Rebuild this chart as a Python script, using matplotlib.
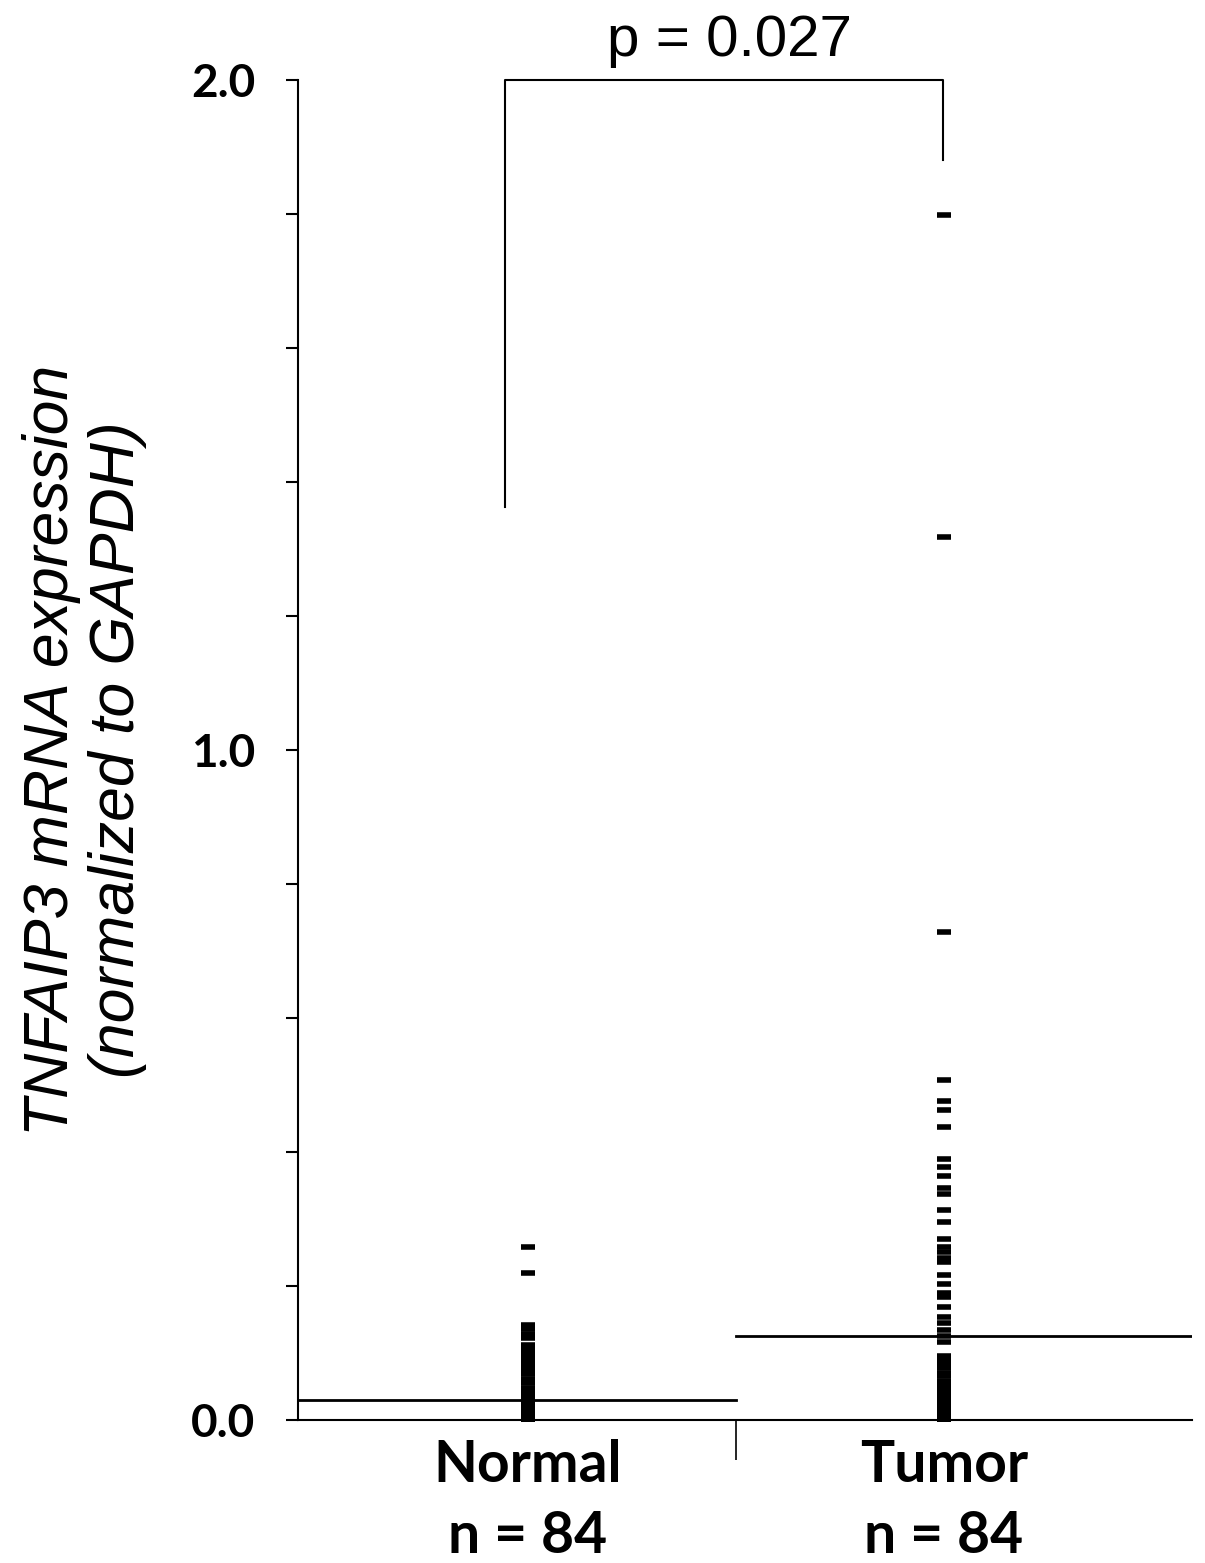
'''
dot plot of TNFAIP3 mRNA expression, normal vs tumor
'''
import numpy as np
import matplotlib.pyplot as plt

groups = ['Normal\nn = 84', 'Tumor\nn = 84']

normal_values = [0.258, 0.219, 0.142, 0.136, 0.129, 0.122,
                 0.112, 0.107, 0.102, 0.098, 0.093, 0.088, 0.083, 0.078, 0.073, 0.068,
                 0.061, 0.055,
                 0.047, 0.044, 0.041, 0.038, 0.035, 0.032, 0.029, 0.027, 0.025, 0.023,
                 0.021, 0.019, 0.018, 0.017, 0.016, 0.015, 0.014, 0.013, 0.012, 0.012,
                 0.011, 0.011, 0.010, 0.010, 0.009, 0.009, 0.008, 0.008, 0.008, 0.007,
                 0.007, 0.007, 0.006, 0.006, 0.006, 0.006, 0.005, 0.005, 0.005, 0.005,
                 0.004, 0.004, 0.004, 0.004, 0.004, 0.003, 0.003, 0.003, 0.003, 0.003,
                 0.003, 0.002, 0.002, 0.002, 0.002, 0.002, 0.002, 0.002, 0.001, 0.001,
                 0.001, 0.001, 0.001, 0.001, 0.001, 0.001]

tumor_values = [1.798, 1.318, 0.728, 0.507, 0.476, 0.463, 0.437, 0.390, 0.378, 0.364,
                0.346, 0.338, 0.313, 0.295, 0.270, 0.258, 0.250, 0.242, 0.236, 0.216,
                0.203, 0.190, 0.184, 0.169, 0.154, 0.145, 0.134, 0.125, 0.117, 0.096,
                0.090, 0.083, 0.077, 0.070, 0.065,
                0.058, 0.055, 0.052, 0.049, 0.046, 0.043, 0.040, 0.037, 0.035, 0.033,
                0.031, 0.029, 0.027, 0.025, 0.023, 0.021, 0.020, 0.019, 0.018, 0.017,
                0.016, 0.015, 0.014, 0.013, 0.012, 0.011, 0.010, 0.010, 0.009, 0.009,
                0.008, 0.008, 0.007, 0.007, 0.006, 0.006, 0.005, 0.005, 0.004, 0.004,
                0.004, 0.003, 0.003, 0.003, 0.002, 0.002, 0.002, 0.001, 0.001]

group_means = [0.030, 0.125]
p_text = 'p = 0.027'
bracket_left, bracket_top, bracket_right = 1.363, 2.0, 1.881

fig = plt.figure(figsize=(12.05, 15.63), dpi=100)
ax = fig.add_axes([0.2473, 0.0915, 0.7419, 0.8573])

# points as short dashes
for i, vals in enumerate([normal_values, tumor_values]):
    ax.plot(np.full(len(vals), i), vals, linestyle='none', marker='_',
            markersize=10.5, markeredgewidth=4, color='black', clip_on=False)

# mean lines, each spanning half the axis
ax.plot([-0.553, 0.5], [group_means[0]] * 2, color='black', lw=2)
ax.plot([0.5, 1.596], [group_means[1]] * 2, color='black', lw=2)

# significance bracket
ax.plot([-0.055, -0.055, 0.998, 0.998], [bracket_left, bracket_top, bracket_top, bracket_right],
        color='black', lw=1.5, clip_on=False)
ax.text(0.483, 2.058, p_text, ha='center', va='center', fontsize=42,
        family='Liberation Sans')

ax.set_xlim(-0.553, 1.596)
ax.set_ylim(0, 2.0)

ax.spines['top'].set_visible(False)
ax.spines['right'].set_visible(False)
ax.spines['left'].set_linewidth(1.5)
ax.spines['bottom'].set_linewidth(1.5)

ax.set_yticks([0, 1.0, 2.0])
ax.set_yticklabels(['0.0', '1.0', '2.0'], fontsize=33, fontweight='bold', family='Lato')
ax.set_yticks(np.arange(0.2, 2.0, 0.2), minor=True)
ax.tick_params(axis='y', which='both', direction='out', length=8.6, width=1.5, pad=22)

ax.set_xticks([0.5])
ax.set_xticklabels([''])
ax.tick_params(axis='x', which='major', direction='out', length=29, width=1.2)
ax.set_xticks([0, 1], minor=True)
ax.set_xticklabels(groups, minor=True, fontsize=41, fontweight='bold', family='Lato',
                   linespacing=1.4)
ax.tick_params(axis='x', which='minor', length=0, pad=14)

ax.set_ylabel('TNFAIP3 mRNA expression\n(normalized to GAPDH)', fontsize=45,
              style='italic', family='Liberation Sans', linespacing=1.15, labelpad=32)

plt.savefig('out.png', dpi=100)
